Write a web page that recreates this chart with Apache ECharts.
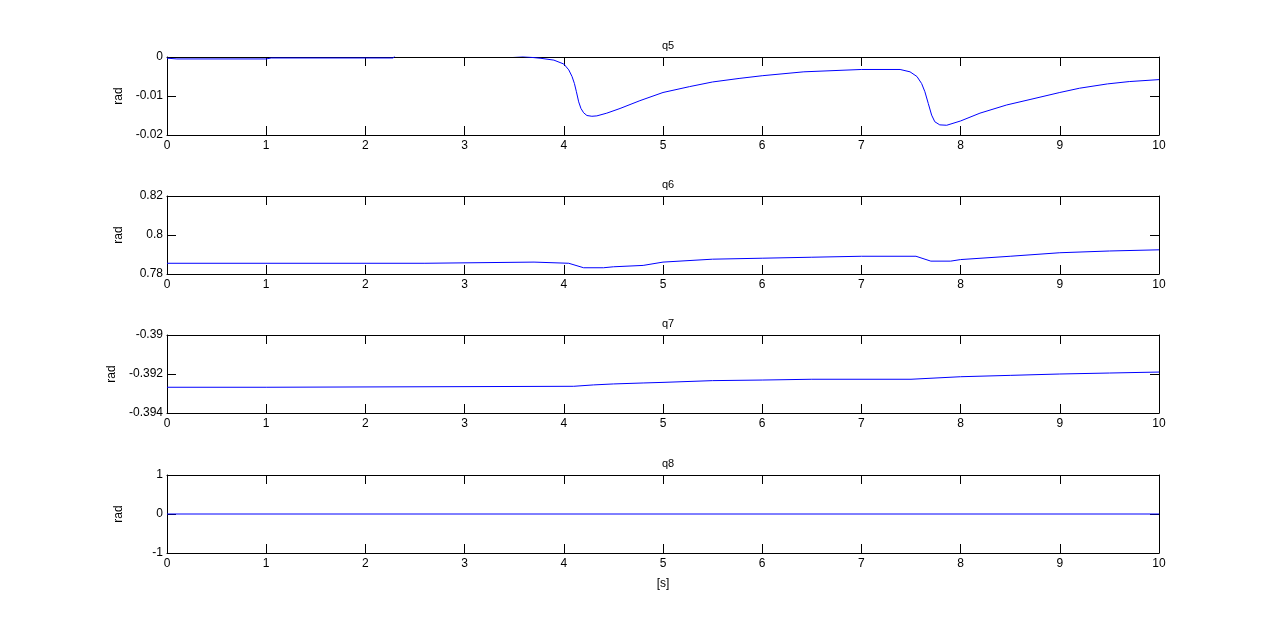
<!DOCTYPE html>
<html>
<head>
<meta charset="utf-8">
<script src="https://cdn.jsdelivr.net/npm/echarts@6/dist/echarts.min.js"></script>
<style>
  html, body { margin: 0; padding: 0; background: #fff; }
  #chart { width: 1281px; height: 637px; }
</style>
</head>
<body>
<div id="chart"></div>
<script>
// time axis (s) and joint angles (rad)
const q5Time  = [0, 0.1, 1.0, 1.05, 2.28, 2.3, 3.48, 3.5, 3.77, 3.9, 4.0, 4.05, 4.083, 4.107, 4.127, 4.15, 4.173, 4.2, 4.233, 4.283, 4.333, 4.433, 4.567, 4.767, 5.0, 5.267, 5.5, 5.767, 6.0, 6.42, 7.0, 7.39, 7.49, 7.56, 7.607, 7.64, 7.674, 7.708, 7.74, 7.79, 7.86, 8.0, 8.195, 8.464, 8.7, 9.0, 9.2, 9.48, 9.7, 10];
const q5Value = [-0.0003, -0.0005, -0.0005, -0.00025, -0.00025, 0.0004, 0.0004, -0.0001, -0.00034, -0.0008, -0.0018, -0.0033, -0.0050, -0.0068, -0.0089, -0.0115, -0.0132, -0.0143, -0.0150, -0.0152, -0.0151, -0.0144, -0.0132, -0.0112, -0.0091, -0.0076, -0.0064, -0.0055, -0.0048, -0.0038, -0.0032, -0.0032, -0.0038, -0.0050, -0.0068, -0.0089, -0.0119, -0.0149, -0.0166, -0.0174, -0.0175, -0.0164, -0.0144, -0.0123, -0.0109, -0.0091, -0.0080, -0.0069, -0.0063, -0.0058];

const q6Time  = [0, 2.6, 2.62, 3.7, 3.72, 4.05, 4.2, 4.4, 4.5, 4.8, 5.0, 5.5, 6.0, 6.5, 7.0, 7.55, 7.7, 7.9, 8.0, 8.5, 9.0, 9.5, 10];
const q6Value = [0.7855, 0.7855, 0.7861, 0.7861, 0.7855, 0.7855, 0.7832, 0.7832, 0.7837, 0.7844, 0.7861, 0.7876, 0.7881, 0.7886, 0.7891, 0.7891, 0.7866, 0.7866, 0.7874, 0.7891, 0.7909, 0.7918, 0.7924];

const q7Time  = [0, 1.0, 1.02, 4.1, 4.3, 4.5, 4.8, 5.0, 5.5, 6.0, 6.5, 7.5, 8.0, 8.5, 9.0, 9.5, 10];
const q7Value = [-0.39268, -0.39268, -0.39263, -0.39263, -0.39256, -0.39251, -0.39246, -0.39243, -0.39234, -0.39231, -0.39227, -0.39227, -0.39214, -0.39207, -0.39200, -0.39195, -0.39190];

const q8Time  = [0, 10];
const q8Value = [0, 0];

const panelNames = ['q5', 'q6', 'q7', 'q8'];
const yMin = [-0.02, 0.78, -0.394, -1];
const yMax = [0, 0.82, -0.39, 1];
const yStep = [0.01, 0.02, 0.002, 1];

const times = [q5Time, q6Time, q7Time, q8Time];
const values = [q5Value, q6Value, q7Value, q8Value];

const gridTops = [57, 196, 335, 475];
const gridHeight = 78;
const font = 'Liberation Sans, Arial, sans-serif';

const chart = echarts.init(document.getElementById('chart'));

const grids = [], xAxes = [], yAxes = [], series = [], titles = [];
const lineStyle = { color: '#000', width: 1 };

panelNames.forEach((name, i) => {
    grids.push({ left: 167, right: 122, top: gridTops[i], height: gridHeight });
    titles.push({
        text: name, left: 663, top: gridTops[i] - 22, textAlign: 'center',
        textStyle: { fontSize: 11, fontWeight: 'normal', color: '#000', fontFamily: font }
    });
    // bottom axis with labels
    xAxes.push({
        type: 'value', gridIndex: i, position: 'bottom', min: 0, max: 10, interval: 1,
        axisLine: { onZero: false, lineStyle: lineStyle },
        axisTick: { inside: true, length: 9, lineStyle: lineStyle },
        axisLabel: { color: '#000', fontSize: 12, margin: 5, fontFamily: font },
        splitLine: { show: false },
        name: i === 3 ? '[s]' : '', nameLocation: 'middle', nameGap: 25,
        nameTextStyle: { color: '#000', fontSize: 12, fontFamily: font }
    });
    // top axis, ticks only
    xAxes.push({
        type: 'value', gridIndex: i, position: 'top', min: 0, max: 10, interval: 1,
        axisLine: { onZero: false, lineStyle: lineStyle },
        axisTick: { inside: true, length: 9, lineStyle: lineStyle },
        axisLabel: { show: false },
        splitLine: { show: false }
    });
    yAxes.push({
        type: 'value', gridIndex: i, position: 'left', min: yMin[i], max: yMax[i], interval: yStep[i],
        axisLine: { onZero: false, lineStyle: lineStyle },
        axisTick: { inside: true, length: 9, lineStyle: lineStyle },
        axisLabel: { color: '#000', fontSize: 12, margin: 4, fontFamily: font },
        splitLine: { show: false },
        name: 'rad', nameLocation: 'middle', nameGap: 42, nameRotate: 90,
        nameTextStyle: { color: '#000', fontSize: 12, fontFamily: font }
    });
    yAxes.push({
        type: 'value', gridIndex: i, position: 'right', min: yMin[i], max: yMax[i], interval: yStep[i],
        axisLine: { onZero: false, lineStyle: lineStyle },
        axisTick: { inside: true, length: 9, lineStyle: lineStyle },
        axisLabel: { show: false },
        splitLine: { show: false }
    });
    series.push({
        type: 'line', xAxisIndex: 2 * i, yAxisIndex: 2 * i,
        data: times[i].map((t, k) => [t, values[i][k]]),
        showSymbol: false, clip: true, animation: false,
        lineStyle: { color: '#0000ff', width: 1 }
    });
});

chart.setOption({
    backgroundColor: '#fff',
    animation: false,
    title: titles,
    grid: grids,
    xAxis: xAxes,
    yAxis: yAxes,
    series: series
});
</script>
</body>
</html>
